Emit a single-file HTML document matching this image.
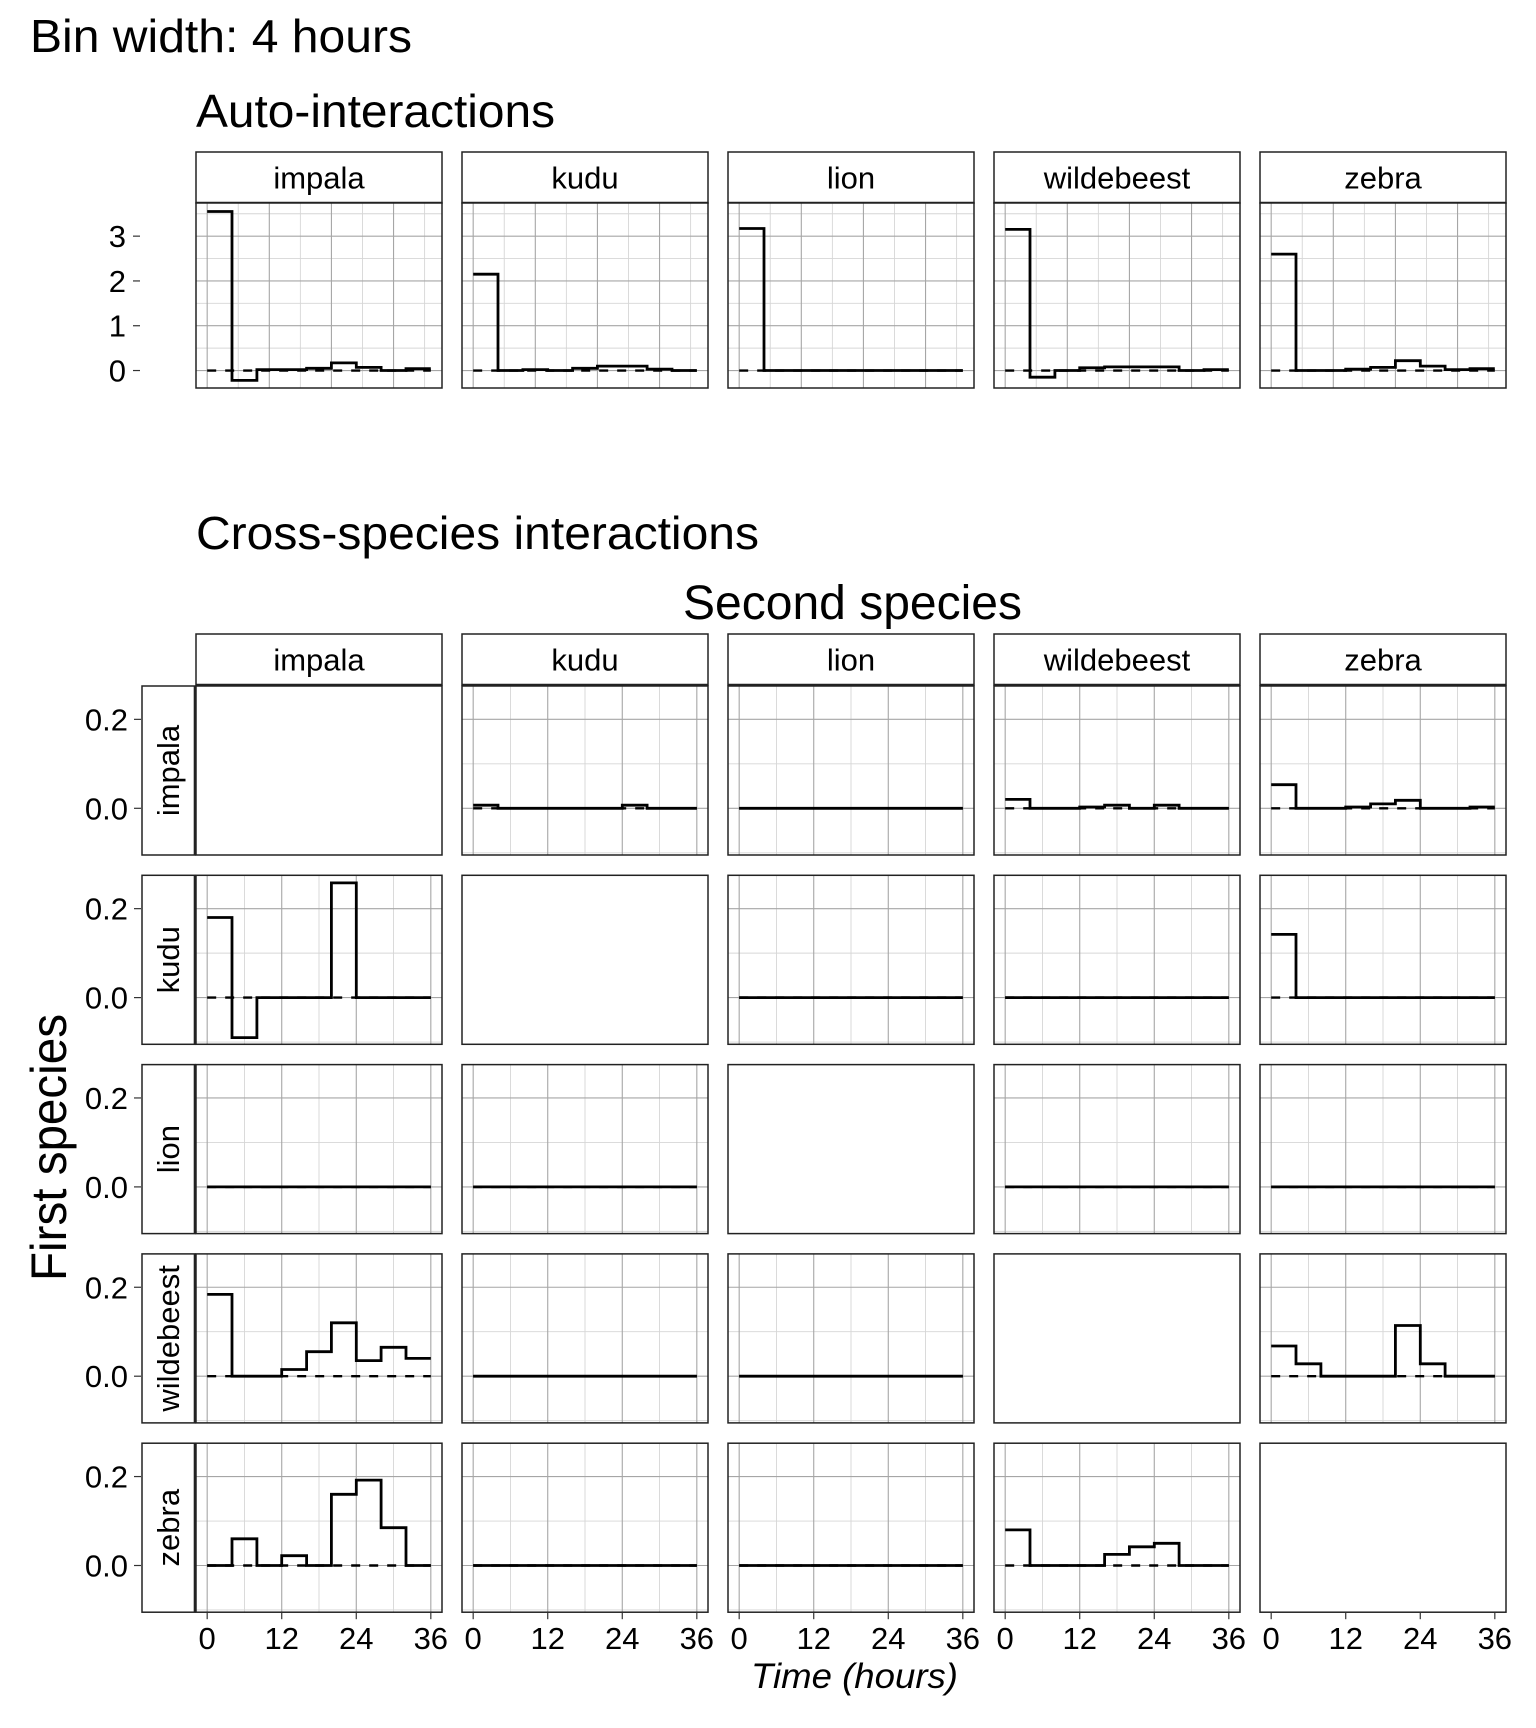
<!DOCTYPE html>
<html><head><meta charset="utf-8"><style>
html,body{margin:0;padding:0;background:#fff;}
svg{display:block;font-family:"Liberation Sans",Arial,sans-serif;}
</style></head><body>
<svg id="chart" width="1536" height="1728" viewBox="0 0 1536 1728" xmlns="http://www.w3.org/2000/svg">
<text x="30" y="52" font-size="46" textLength="382" lengthAdjust="spacingAndGlyphs">Bin width: 4 hours</text>
<text x="196" y="127" font-size="46" textLength="359" lengthAdjust="spacingAndGlyphs">Auto-interactions</text>
<text x="196" y="549" font-size="46" textLength="563" lengthAdjust="spacingAndGlyphs">Cross-species interactions</text>
<text x="683" y="619" font-size="48" textLength="339" lengthAdjust="spacingAndGlyphs">Second species</text>
<text x="0" y="0" font-size="50" textLength="267" lengthAdjust="spacingAndGlyphs" transform="translate(66,1281) rotate(-90)">First species</text>
<text x="751" y="1688" font-size="35" font-style="italic" textLength="207" lengthAdjust="spacingAndGlyphs">Time (hours)</text>
<g id="plots"></g>
</svg>
<script>
const species = ["impala","kudu","lion","wildebeest","zebra"];
const binStarts = [0,4,8,12,16,20,24,28,32];
const binWidth = 4;
const autoTicks = [0,1,2,3];
const crossTicks = [0.0,0.2];
const crossTickLabels = ["0.0","0.2"];
const xTicks = [0,12,24,36];

const autoImpala = [3.55,-0.22,0.02,0.02,0.05,0.17,0.07,0.0,0.04];
const autoKudu = [2.15,0.0,0.02,0.0,0.05,0.1,0.1,0.03,0.0];
const autoLion = [3.17,0,0,0,0,0,0,0,0];
const autoWildebeest = [3.15,-0.15,0.0,0.06,0.08,0.08,0.08,0.0,0.02];
const autoZebra = [2.6,0.0,0.0,0.03,0.07,0.22,0.1,0.02,0.04];
const autoSeries = [autoImpala,autoKudu,autoLion,autoWildebeest,autoZebra];

const impalaKudu = [0.007,0,0,0,0,0,0.007,0,0];
const impalaLion = [0,0,0,0,0,0,0,0,0];
const impalaWildebeest = [0.02,0,0,0.003,0.007,0,0.007,0,0];
const impalaZebra = [0.053,0,0,0.003,0.01,0.018,0,0,0.003];
const kuduImpala = [0.18,-0.09,0,0,0,0.258,0,0,0];
const kuduLion = [0,0,0,0,0,0,0,0,0];
const kuduWildebeest = [0,0,0,0,0,0,0,0,0];
const kuduZebra = [0.142,0,0,0,0,0,0,0,0];
const lionImpala = [0,0,0,0,0,0,0,0,0];
const lionKudu = [0,0,0,0,0,0,0,0,0];
const lionWildebeest = [0,0,0,0,0,0,0,0,0];
const lionZebra = [0,0,0,0,0,0,0,0,0];
const wildebeestImpala = [0.184,0,0,0.015,0.055,0.12,0.035,0.065,0.04];
const wildebeestKudu = [0,0,0,0,0,0,0,0,0];
const wildebeestLion = [0,0,0,0,0,0,0,0,0];
const wildebeestZebra = [0.068,0.028,0,0,0,0.114,0.028,0,0];
const zebraImpala = [0,0.06,0,0.022,0,0.16,0.192,0.085,0];
const zebraKudu = [0,0,0,0,0,0,0,0,0];
const zebraLion = [0,0,0,0,0,0,0,0,0];
const zebraWildebeest = [0.08,0,0,0,0.025,0.042,0.05,0,0];
const crossSeries = [
  [null,impalaKudu,impalaLion,impalaWildebeest,impalaZebra],
  [kuduImpala,null,kuduLion,kuduWildebeest,kuduZebra],
  [lionImpala,lionKudu,null,lionWildebeest,lionZebra],
  [wildebeestImpala,wildebeestKudu,wildebeestLion,null,wildebeestZebra],
  [zebraImpala,zebraKudu,zebraLion,zebraWildebeest,null]
];

const NS = "http://www.w3.org/2000/svg";
const root = document.getElementById("plots");
function mk(tag, attrs, parent){
  const e = document.createElementNS(NS, tag);
  for (const k in attrs) e.setAttribute(k, attrs[k]);
  (parent||root).appendChild(e);
  return e;
}
const PL = 196, PW = 246, PITCH = 266;
const XMIN = -1.8, XMAX = 37.8;
function xScale(i){ const left = PL + i*PITCH; return h => left + (h - XMIN)/(XMAX - XMIN)*PW; }
function yScaleF(top, h, ymin, ymax){ return v => top + h - (v - ymin)/(ymax - ymin)*h; }

function drawPanel(i, top, h, ymin, ymax, data, vMajor, vMinor, hMajor, hMinor, name){
  const left = PL + i*PITCH;
  const xs = xScale(i), ys = yScaleF(top, h, ymin, ymax);
  const g = mk("g", {});
  
  
  mk("rect", {x:left, y:top, width:PW, height:h, fill:"#fff"}, g);
  if (data) {
    hMinor.forEach(v => { if (v>ymin && v<ymax) mk("line",{x1:left,x2:left+PW,y1:ys(v),y2:ys(v),stroke:"#d6d6d6","stroke-width":0.9},g); });
    vMinor.forEach(v => mk("line",{x1:xs(v),x2:xs(v),y1:top,y2:top+h,stroke:"#d6d6d6","stroke-width":0.9},g));
    hMajor.forEach(v => mk("line",{x1:left,x2:left+PW,y1:ys(v),y2:ys(v),stroke:"#a6a6a6","stroke-width":1.1},g));
    vMajor.forEach(v => mk("line",{x1:xs(v),x2:xs(v),y1:top,y2:top+h,stroke:"#a6a6a6","stroke-width":1.1},g));
    const z = mk("line",{x1:xs(0),x2:xs(36),y1:ys(0),y2:ys(0),stroke:"#000","stroke-width":2.4,"stroke-dasharray":"9,9"},g);
    
    
    let d = "";
    data.forEach((v,k) => {
      const x0 = xs(binStarts[k]), x1 = xs(binStarts[k]+binWidth), y = ys(v);
      d += (k===0 ? "M" : "L") + x0.toFixed(1) + "," + y.toFixed(1) + "L" + x1.toFixed(1) + "," + y.toFixed(1);
    });
    const p = mk("path",{d:d,fill:"none",stroke:"#000","stroke-width":2.8,"stroke-linejoin":"miter"},g);
    
    
  }
  mk("rect", {x:left, y:top, width:PW, height:h, fill:"none", stroke:"#222","stroke-width":1.5}, g);
}

function colStrip(i, top, h, label){
  const left = PL + i*PITCH;
  const g = mk("g", {});
  
  
  mk("rect",{x:left,y:top,width:PW,height:h,fill:"#fff",stroke:"#222","stroke-width":1.5},g);
  mk("line",{x1:left,x2:left+PW,y1:top+h,y2:top+h,stroke:"#222","stroke-width":2.4},g);
  const t = mk("text",{x:left+PW/2,y:top+h/2+11,"font-size":31,"text-anchor":"middle"},g);
  t.textContent = label;
}

// Auto row
const A_TOP = 203, A_H = 185, A_MIN = -0.39, A_MAX = 3.74;
species.forEach((s,i) => {
  colStrip(i, 152, 51, s);
  drawPanel(i, A_TOP, A_H, A_MIN, A_MAX, autoSeries[i], [0,10,20,30], [5,15,25,35], autoTicks, [0.5,1.5,2.5,3.5], 'auto-panel-' + s);
});
const ysA = yScaleF(A_TOP, A_H, A_MIN, A_MAX);
autoTicks.forEach(v => {
  const t = mk("text",{x:126,y:ysA(v)+11,"font-size":31,"text-anchor":"end"});
  
  
  t.textContent = String(v);
  mk("line",{x1:133,x2:140,y1:ysA(v),y2:ysA(v),stroke:"#333","stroke-width":1.2});
});

// Cross grid
const C_MIN = -0.105, C_MAX = 0.275, C_H = 169, ROW0 = 686, RPITCH = 189.3;
species.forEach((s,i) => colStrip(i, 634, 51, s));
species.forEach((rs, r) => {
  const top = ROW0 + r*RPITCH;
  const g = mk("g", {});
  
  
  mk("rect",{x:142,y:top,width:53,height:C_H,fill:"#fff",stroke:"#222","stroke-width":1.5},g);
  mk("line",{x1:195,x2:195,y1:top,y2:top+C_H,stroke:"#222","stroke-width":2.6},g);
  const t = mk("text",{x:0,y:0,"font-size":31,"text-anchor":"middle",transform:"translate(179,"+(top+C_H/2)+") rotate(-90)"},g);
  t.textContent = rs;
  const ys = yScaleF(top, C_H, C_MIN, C_MAX);
  crossTicks.forEach((v,k) => {
    const tl = mk("text",{x:128,y:ys(v)+11,"font-size":31,"text-anchor":"end"});
    
    
    tl.textContent = crossTickLabels[k];
    mk("line",{x1:134,x2:141,y1:ys(v),y2:ys(v),stroke:"#333","stroke-width":1.2});
  });
  species.forEach((cs, c) => {
    drawPanel(c, top, C_H, C_MIN, C_MAX, crossSeries[r][c], [0,12,24,36], [6,18,30], [0,0.2], [-0.1,0.1], 'cross-panel-' + rs + '-' + cs);
  });
});
// x axes
const bottom = ROW0 + 4*RPITCH + C_H;
species.forEach((s,i) => {
  const xs = xScale(i);
  xTicks.forEach(v => {
    mk("line",{x1:xs(v),x2:xs(v),y1:bottom,y2:bottom+7,stroke:"#333","stroke-width":1.2});
    const t = mk("text",{x:xs(v),y:bottom+37,"font-size":31,"text-anchor":"middle"});
    
    
    t.textContent = String(v);
  });
});
</script>
</body></html>
